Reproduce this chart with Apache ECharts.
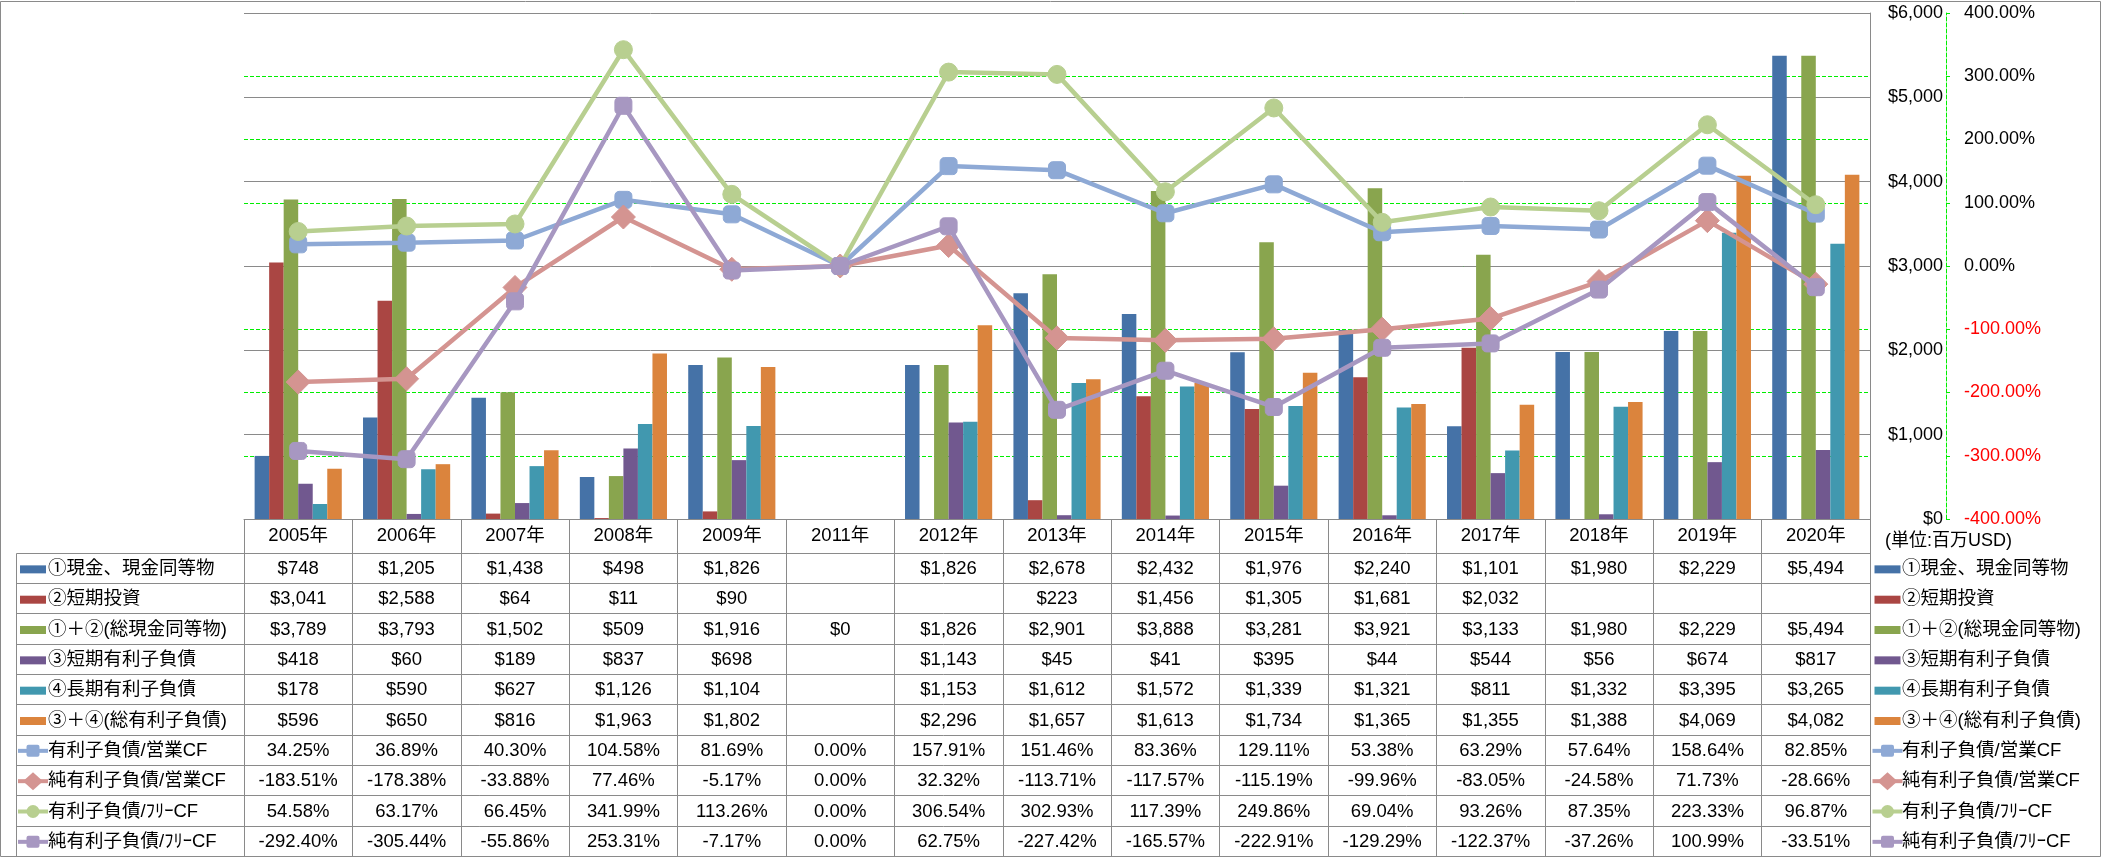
<!DOCTYPE html>
<html><head><meta charset="utf-8">
<script src="https://cdn.jsdelivr.net/npm/echarts@6/dist/echarts.min.js"></script>
<style>html,body{margin:0;padding:0;background:#fff}#c{width:2101px;height:858px}</style>
</head><body><div id="c"></div>
<script>
// ---- data ----
const categories = ['2005年','2006年','2007年','2008年','2009年','2011年','2012年','2013年','2014年','2015年','2016年','2017年','2018年','2019年','2020年'];
const barNames = ['①現金、現金同等物','②短期投資','①＋②(総現金同等物)','③短期有利子負債','④長期有利子負債','③＋④(総有利子負債)'];
const lineNames = ['有利子負債/営業CF','純有利子負債/営業CF','有利子負債/ﾌﾘｰCF','純有利子負債/ﾌﾘｰCF'];
const cash       = [748,1205,1438,498,1826,null,1826,2678,2432,1976,2240,1101,1980,2229,5494];
const shortInv   = [3041,2588,64,11,90,null,null,223,1456,1305,1681,2032,null,null,null];
const totalCash  = [3789,3793,1502,509,1916,0,1826,2901,3888,3281,3921,3133,1980,2229,5494];
const shortDebt  = [418,60,189,837,698,null,1143,45,41,395,44,544,56,674,817];
const longDebt   = [178,590,627,1126,1104,null,1153,1612,1572,1339,1321,811,1332,3395,3265];
const totalDebt  = [596,650,816,1963,1802,null,2296,1657,1613,1734,1365,1355,1388,4069,4082];
const debtOpCF      = [34.25,36.89,40.30,104.58,81.69,0.00,157.91,151.46,83.36,129.11,53.38,63.29,57.64,158.64,82.85];
const netDebtOpCF   = [-183.51,-178.38,-33.88,77.46,-5.17,0.00,32.32,-113.71,-117.57,-115.19,-99.96,-83.05,-24.58,71.73,-28.66];
const debtFreeCF    = [54.58,63.17,66.45,341.99,113.26,0.00,306.54,302.93,117.39,249.86,69.04,93.26,87.35,223.33,96.87];
const netDebtFreeCF = [-292.40,-305.44,-55.86,253.31,-7.17,0.00,62.75,-227.42,-165.57,-222.91,-129.29,-122.37,-37.26,100.99,-33.51];
const unitLabel = '(単位:百万USD)';

// ---- styles ----
const barColors = ['#4572A7','#AA4643','#89A54E','#71588F','#4198AF','#DB843D'];
const lineColors = ['#8EA9D5','#D49491','#B8CF90','#A797C1'];
const lineSymbols = ['roundRect','diamond','circle','roundRect'];
const lineSymbolSizes = [17,24,18,17];
const FONT = "'Liberation Sans', 'Noto Sans CJK JP', sans-serif";
const GRAY = '#8a8a8a';

const barData = [cash, shortInv, totalCash, shortDebt, longDebt, totalDebt];
const lineData = [debtOpCF, netDebtOpCF, debtFreeCF, netDebtFreeCF];

const series = [];
barData.forEach((d,i)=>series.push({
  name: barNames[i], type:'bar', yAxisIndex:0, data:d,
  barGap:'0%', barCategoryGap:'19.6%',
  itemStyle:{color:barColors[i]}, z:2
}));
lineData.forEach((d,i)=>series.push({
  name: lineNames[i], type:'line', yAxisIndex:1, data:d,
  symbol: lineSymbols[i], symbolSize: lineSymbolSizes[i], showSymbol:true,
  lineStyle:{color:lineColors[i], width:4.5},
  itemStyle:{color:lineColors[i], borderColor:lineColors[i], borderWidth:1},
  z:3+i
}));

const option = {
  animation:false,
  backgroundColor:'#fff',
  textStyle:{fontFamily:FONT},
  grid:{left:244, right:231, top:13, bottom:339, containLabel:false},
  xAxis:{
    type:'category', data:categories, boundaryGap:true,
    axisLine:{show:true, lineStyle:{color:GRAY, width:1}},
    axisTick:{show:true, interval:0, length:337, alignWithLabel:false, lineStyle:{color:GRAY, width:1}},
    axisLabel:{interval:0, margin:8, fontSize:18.5, color:'#000', fontFamily:FONT},
    splitLine:{show:false}
  },
  yAxis:[
    {
      type:'value', position:'right', min:0, max:6000, interval:1000, z:1,
      axisLine:{show:true, lineStyle:{color:GRAY, width:1}},
      axisTick:{show:false},
      axisLabel:{align:'right', margin:73, fontSize:18, color:'#000', fontFamily:FONT,
        formatter:v=>'$'+Number(v).toLocaleString('en-US')},
      splitLine:{show:true, lineStyle:{color:GRAY, width:1, type:'solid'}}
    },
    {
      type:'value', position:'right', offset:76, min:-400, max:400, interval:100, z:0,
      axisLine:{show:true, lineStyle:{color:'#00EE00', width:1, type:[4,2]}},
      axisTick:{show:true, length:4, lineStyle:{color:'#00EE00', width:1}},
      axisLabel:{align:'left', margin:18, fontSize:18, fontFamily:FONT,
        color:(v)=> (parseFloat(v) < 0 ? '#FF0000' : '#000'),
        formatter:v=>Number(v).toFixed(2)+'%'},
      splitLine:{show:true, lineStyle:{color:'#00EE00', width:1, type:[4,2]}}
    }
  ],
  series: series
};

const chart = echarts.init(document.getElementById('c'), null, {renderer:'canvas'});
chart.setOption(option);

// ---- data table, legend and frame (graphic) ----
const xs = categories.map((c,i)=>chart.convertToPixel({xAxisIndex:0}, i));
const catW = (xs[xs.length-1]-xs[0])/(xs.length-1);
const gridL = xs[0]-catW/2, gridR = xs[xs.length-1]+catW/2;
const tableTop = 552.7, rowH = 30.33, tableLeft = 16.5;
const g = [];
const px = v=>Math.round(v)+0.5;

g.push({type:'rect', shape:{x:0.5,y:1.5,width:2100,height:855}, style:{fill:null, stroke:GRAY, lineWidth:1}, z:0, silent:true});
for(let i=0;i<=10;i++){
  const y = px(tableTop+i*rowH);
  g.push({type:'line', shape:{x1:tableLeft, y1:y, x2:gridR, y2:y}, style:{stroke:GRAY, lineWidth:1}, silent:true});
}
g.push({type:'line', shape:{x1:tableLeft, y1:px(tableTop), x2:tableLeft, y2:px(tableTop+10*rowH)}, style:{stroke:GRAY, lineWidth:1}, silent:true});

const usd = v => v==null ? '' : '$'+v.toLocaleString('en-US');
const pct = v => v==null ? '' : v.toFixed(2)+'%';
const rows = [];
barData.forEach((d,i)=>rows.push({name:barNames[i], kind:'bar', idx:i, cells:d.map(usd)}));
lineData.forEach((d,i)=>rows.push({name:lineNames[i], kind:'line', idx:i, cells:d.map(pct)}));

function key(row, x0, cy){
  if(row.kind==='bar'){
    g.push({type:'rect', shape:{x:x0, y:cy-3.5, width:26, height:8}, style:{fill:barColors[row.idx]}, silent:true});
  } else {
    const c = lineColors[row.idx];
    g.push({type:'line', shape:{x1:x0-2, y1:cy, x2:x0+28, y2:cy}, style:{stroke:c, lineWidth:4}, silent:true});
    const mx = x0+13;
    const sym = lineSymbols[row.idx];
    if(sym==='circle') g.push({type:'circle', shape:{cx:mx, cy:cy, r:6.5}, style:{fill:c}, silent:true});
    else if(sym==='diamond') g.push({type:'polygon', shape:{points:[[mx,cy-9],[mx+10,cy],[mx,cy+9],[mx-10,cy]]}, style:{fill:c}, silent:true});
    else g.push({type:'rect', shape:{x:mx-6.5, y:cy-6, width:13, height:12, r:2}, style:{fill:c}, silent:true});
  }
}

rows.forEach((row,r)=>{
  const cy = tableTop + r*rowH + rowH/2;
  key(row, 20, cy+1);
  g.push({type:'text', x:48, y:cy+1, style:{text:row.name, fontSize:18.5, fontFamily:FONT, fill:'#000', align:'left', verticalAlign:'middle'}, silent:true});
  key(row, gridR+4.5, cy+1);
  g.push({type:'text', x:gridR+32, y:cy+1, style:{text:row.name, fontSize:18.5, fontFamily:FONT, fill:'#000', align:'left', verticalAlign:'middle'}, silent:true});
  row.cells.forEach((t,c)=>{
    if(!t) return;
    g.push({type:'text', x:xs[c], y:cy+1, style:{text:t, fontSize:18.5, fontFamily:FONT, fill:'#000', align:'center', verticalAlign:'middle'}, silent:true});
  });
});
g.push({type:'text', x:gridR+15, y:541.5, style:{text:unitLabel, fontSize:18, fontFamily:FONT, fill:'#000', align:'left', verticalAlign:'middle'}, silent:true});

chart.setOption({graphic:{elements:g}});
</script>
</body></html>
